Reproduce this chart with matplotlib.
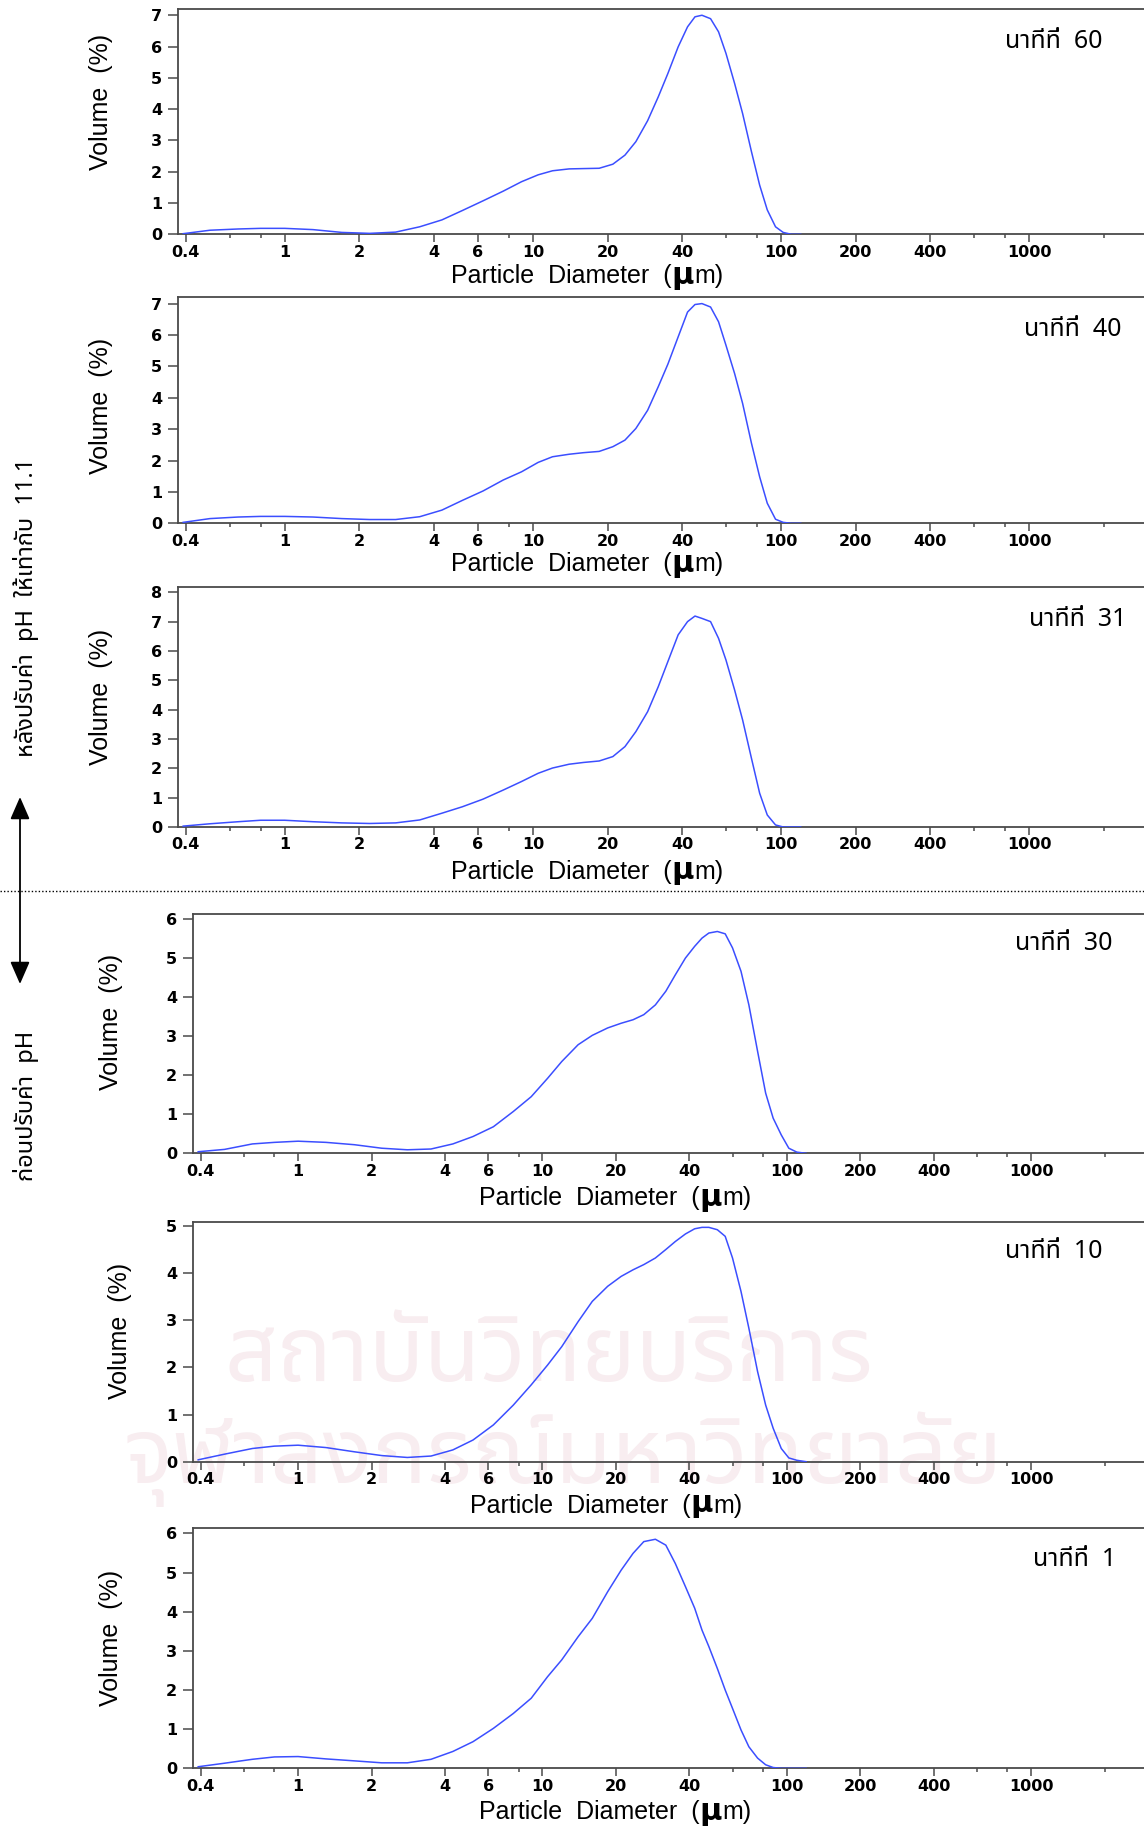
import matplotlib
matplotlib.use("Agg")
import matplotlib.pyplot as plt
from matplotlib import font_manager
from matplotlib.ft2font import FT2Font
from matplotlib.ticker import FixedLocator, NullFormatter, FixedFormatter

# ---------------------------------------------------------------- data
diameter_um = [0.39, 0.5, 0.65, 0.8, 1.0, 1.3, 1.7, 2.2, 2.8, 3.5, 4.3, 5.2,
               6.3, 7.6, 9, 10.5, 12, 14, 16, 18.5, 21, 23.5, 26, 29, 32, 35,
               38.5, 42, 45, 48, 52, 56, 60, 65, 70, 76, 82, 88, 95, 102, 110,
               120]

vol_min60 = [0.02, 0.13, 0.17, 0.19, 0.19, 0.15, 0.06, 0.03, 0.07, 0.24, 0.46,
             0.76, 1.07, 1.38, 1.68, 1.90, 2.03, 2.09, 2.10, 2.11, 2.24, 2.53,
             2.96, 3.63, 4.39, 5.14, 5.99, 6.63, 6.95, 7.0, 6.89, 6.47, 5.78,
             4.82, 3.86, 2.64, 1.57, 0.78, 0.24, 0.06, 0.0, 0.0]
vol_min40 = [0.03, 0.15, 0.2, 0.22, 0.22, 0.2, 0.15, 0.12, 0.12, 0.21, 0.42,
             0.73, 1.03, 1.38, 1.64, 1.94, 2.12, 2.2, 2.25, 2.29, 2.44, 2.65,
             3.02, 3.6, 4.35, 5.07, 5.94, 6.73, 6.97, 7.0, 6.89, 6.42, 5.67,
             4.77, 3.82, 2.55, 1.48, 0.64, 0.13, 0.03, 0.0, 0.0]
vol_min31 = [0.03, 0.11, 0.18, 0.23, 0.23, 0.18, 0.14, 0.12, 0.14, 0.24, 0.47,
             0.69, 0.95, 1.26, 1.55, 1.83, 2.01, 2.14, 2.2, 2.25, 2.4, 2.74,
             3.25, 3.93, 4.78, 5.64, 6.55, 7.0, 7.19, 7.11, 7.0, 6.43, 5.69,
             4.67, 3.65, 2.34, 1.15, 0.41, 0.07, 0.0, 0.0, 0.0]
vol_min30 = [0.04, 0.1, 0.24, 0.28, 0.31, 0.28, 0.22, 0.13, 0.09, 0.11, 0.24,
             0.43, 0.68, 1.07, 1.45, 1.92, 2.35, 2.78, 3.02, 3.21, 3.33, 3.42,
             3.55, 3.8, 4.15, 4.57, 5.0, 5.3, 5.51, 5.64, 5.68, 5.62, 5.26,
             4.66, 3.8, 2.61, 1.54, 0.9, 0.47, 0.13, 0.03, 0.0]
vol_min10 = [0.04, 0.16, 0.28, 0.33, 0.35, 0.3, 0.21, 0.13, 0.09, 0.12, 0.25,
             0.46, 0.78, 1.2, 1.63, 2.05, 2.44, 2.97, 3.4, 3.72, 3.93, 4.07,
             4.18, 4.32, 4.5, 4.67, 4.83, 4.94, 4.97, 4.97, 4.92, 4.78, 4.32,
             3.61, 2.83, 1.91, 1.2, 0.71, 0.28, 0.08, 0.03, 0.0]
vol_min1 = [0.04, 0.13, 0.23, 0.29, 0.3, 0.24, 0.19, 0.14, 0.14, 0.23, 0.43,
            0.68, 1.02, 1.4, 1.79, 2.34, 2.77, 3.36, 3.83, 4.51, 5.06, 5.49,
            5.79, 5.85, 5.7, 5.23, 4.64, 4.09, 3.53, 3.11, 2.55, 2.0, 1.53,
            0.98, 0.55, 0.26, 0.09, 0.02, 0.0, 0.0, 0.0, 0.0]

panel_labels = ["นาทีที่  60", "นาทีที่  40", "นาทีที่  31",
                "นาทีที่  30", "นาทีที่  10", "นาทีที่  1"]
y_max_ticks = [7, 7, 8, 6, 5, 6]
y_limits = [7.19, 7.2, 8.17, 6.12, 5.09, 6.13]

x_major = [0.4, 1, 2, 4, 6, 10, 20, 40, 100, 200, 400, 1000]
x_major_labels = ["0.4", "1", "2", "4", "6", "10", "20", "40", "100", "200",
                  "400", "1000"]
x_minor = [0.6, 0.8, 8, 60, 80, 600, 800, 2000]

after_text = "หลังปรับค่า  pH  ให้เท่ากับ  11.1"
before_text = "ก่อนปรับค่า  pH"
x_title_parts = ["Particle  Diameter  (", "µ", "m)"]
y_title = "Volume  (%)"
watermark_lines = ["สถาบันวิทยบริการ", "จุฬาลงกรณ์มหาวิทยาลัย"]


def thai_family():
    found = []
    for fe in font_manager.fontManager.ttflist:
        try:
            cmap = FT2Font(fe.fname).get_charmap()
        except Exception:
            continue
        if 0x0E19 in cmap:
            found.append(fe.name)
    for pref in ("Noto Sans Thai", "Noto Sans Thai Looped", "Loma", "Garuda",
                 "Norasi", "Kinnari", "Tlwg Typo", "Noto Sans", "FreeSans"):
        if pref in found:
            return pref
    return found[0] if found else "DejaVu Sans"


THAI = [thai_family(), "DejaVu Sans"]
SANS = ["Liberation Sans", "DejaVu Sans"]

W, H = 1144, 1830
fig = plt.figure(figsize=(W / 100, H / 100), dpi=100)
fig.patch.set_facecolor("white")
renderer = fig.canvas.get_renderer()


def axis_title(xc, yc):
    """Draw the diameter title centred at pixel (xc, yc) with a bold, larger mu."""
    styles = [dict(family=SANS, fontsize=18),
              dict(family="DejaVu Sans", fontsize=22, fontweight="bold"),
              dict(family=SANS, fontsize=18)]
    pieces = [fig.text(0, 0, s, va="baseline", ha="left", **st)
              for s, st in zip(x_title_parts, styles)]
    widths = [p.get_window_extent(renderer).width for p in pieces]
    x = xc - sum(widths) / 2
    base = 1 - (yc + 6.5) / H
    for p, w in zip(pieces, widths):
        p.set_position((x / W, base))
        x += w


# panel frames in pixels: left, top, bottom
frames = [(177.5, 9.3, 234.3), (177.5, 297.3, 523.3), (177.5, 587.3, 827.0),
          (192.6, 914.3, 1153.3), (192.6, 1221.7, 1461.7), (192.6, 1528.3, 1768.3)]
series = [vol_min60, vol_min40, vol_min31, vol_min30, vol_min10, vol_min1]
xlabel_pos = [(587, 277), (587, 565), (587, 873), (615, 1199), (606, 1506), (615, 1813)]
ylabel_pos = [(101, 102), (101, 406), (101, 697), (111, 1022), (120, 1331), (111, 1638)]
note_pos = [(1054, 42), (1073, 330), (1078, 619), (1064, 944), (1054, 1252), (1075, 1560)]

spine_col = "#4a4a4a"
line_col = "#3b4eff"

for i, (left, top, bottom) in enumerate(frames):
    ax = fig.add_axes([left / W, 1 - bottom / H, 1 - left / W, (bottom - top) / H])
    ax.set_facecolor("none")
    ax.plot(diameter_um, series[i], color=line_col, lw=1.1, zorder=3,
            solid_joinstyle="round")
    ax.set_xscale("log")
    ax.set_xlim(0.37, 2900)
    ax.set_ylim(0, y_limits[i])
    ax.spines["right"].set_visible(False)
    for s in ("left", "top", "bottom"):
        ax.spines[s].set_color(spine_col)
        ax.spines[s].set_linewidth(1.3)
    ax.xaxis.set_major_locator(FixedLocator(x_major))
    ax.xaxis.set_major_formatter(FixedFormatter(x_major_labels))
    ax.xaxis.set_minor_locator(FixedLocator(x_minor))
    ax.xaxis.set_minor_formatter(NullFormatter())
    ax.set_yticks(range(0, y_max_ticks[i] + 1))
    ax.tick_params(axis="x", which="major", direction="out", length=5.5,
                   width=1.1, color=spine_col, pad=2, labelsize=11.5)
    ax.tick_params(axis="x", which="minor", direction="out", length=3,
                   width=1.1, color=spine_col)
    ax.tick_params(axis="y", which="major", direction="out", length=7,
                   width=1.1, color=spine_col, pad=4, labelsize=11.5)
    for lab in ax.get_xticklabels() + ax.get_yticklabels():
        lab.set_fontweight("bold")
        lab.set_family("DejaVu Sans")

    axis_title(*xlabel_pos[i])
    fig.text(ylabel_pos[i][0] / W, 1 - ylabel_pos[i][1] / H, y_title,
             family=SANS, fontsize=18, ha="center", va="center", rotation=90)
    fig.text(note_pos[i][0] / W, 1 - note_pos[i][1] / H, panel_labels[i],
             family=THAI, fontsize=18, ha="center", va="center")

# faint watermark lettering behind the panels
fig.text(549 / W, 1 - 1357 / H, watermark_lines[0], family=THAI, fontsize=66,
         color="#f8edf0", ha="center", va="center", zorder=-5)
fig.text(563 / W, 1 - 1459 / H, watermark_lines[1], family=THAI, fontsize=66,
         color="#f8edf0", ha="center", va="center", zorder=-5)

# separator between the two pH conditions
fig.add_artist(plt.Line2D([0, 1], [1 - 891 / H, 1 - 891 / H], color="black",
                          lw=1.0, linestyle=(0, (1, 1.5)),
                          transform=fig.transFigure))

# double-headed arrow on the left
fig.add_artist(matplotlib.patches.FancyArrowPatch(
    (20 / W, 1 - 984 / H), (20 / W, 1 - 797 / H), transform=fig.transFigure,
    arrowstyle="<|-|>,head_length=5.5,head_width=2.4", color="black", lw=1.3,
    mutation_scale=2.5, shrinkA=0, shrinkB=0))

fig.text(26 / W, 1 - 607 / H, after_text, family=THAI, fontsize=17,
         rotation=90, ha="center", va="center")
fig.text(26 / W, 1 - 1106 / H, before_text, family=THAI, fontsize=17,
         rotation=90, ha="center", va="center")

fig.savefig("out.png", dpi=100, facecolor="white")
